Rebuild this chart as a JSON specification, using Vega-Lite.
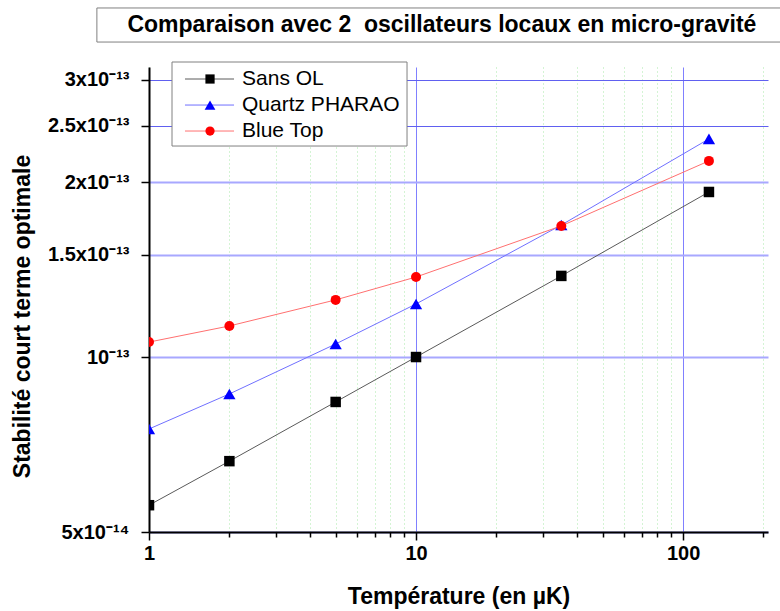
{
  "$schema": "https://vega.github.io/schema/vega-lite/v6.json",
  "width": 619,
  "height": 465,
  "autosize": {"type": "none"},
  "padding": {"left": 149, "top": 67, "right": 12, "bottom": 79},
  "background": "white",
  "config": {"view": {"stroke": null}, "font": "Liberation Sans"},
  "data": {
    "values": [
      {"series": "Sans OL", "T": 1, "S": 5.56e-14},
      {"series": "Sans OL", "T": 2, "S": 6.62e-14},
      {"series": "Sans OL", "T": 5, "S": 8.37e-14},
      {"series": "Sans OL", "T": 10, "S": 1.0e-13},
      {"series": "Sans OL", "T": 35, "S": 1.379e-13},
      {"series": "Sans OL", "T": 125, "S": 1.923e-13},
      {"series": "Quartz PHARAO", "T": 1, "S": 7.52e-14},
      {"series": "Quartz PHARAO", "T": 2, "S": 8.64e-14},
      {"series": "Quartz PHARAO", "T": 5, "S": 1.053e-13},
      {"series": "Quartz PHARAO", "T": 10, "S": 1.234e-13},
      {"series": "Quartz PHARAO", "T": 35, "S": 1.687e-13},
      {"series": "Quartz PHARAO", "T": 125, "S": 2.373e-13},
      {"series": "Blue Top", "T": 1, "S": 1.061e-13},
      {"series": "Blue Top", "T": 2, "S": 1.131e-13},
      {"series": "Blue Top", "T": 5, "S": 1.254e-13},
      {"series": "Blue Top", "T": 10, "S": 1.373e-13},
      {"series": "Blue Top", "T": 35, "S": 1.681e-13},
      {"series": "Blue Top", "T": 125, "S": 2.175e-13}
    ]
  },
  "layer": [
    {
      "encoding": {
        "x": {
          "field": "T",
          "type": "quantitative",
          "scale": {"type": "log", "domain": [1, 208], "nice": false},
          "axis": {
            "title": "Température (en µK)",
            "values": [1, 2, 3, 4, 5, 6, 7, 8, 9, 10, 20, 30, 40, 50, 60, 70, 80, 90, 100, 200],
            "labelExpr": "datum.value == 1 || datum.value == 10 || datum.value == 100 ? format(datum.value, 'd') : ''",
            "labelFont": "Liberation Sans",
            "labelFontSize": 20,
            "labelFontWeight": "bold",
            "labelColor": "black",
            "labelFlush": false,
            "labelOverlap": false,
            "labelPadding": 3,
            "tickColor": "black",
            "tickWidth": 1.5,
            "tickSize": {"condition": {"test": "datum.value == 1 || datum.value == 10 || datum.value == 100", "value": 8}, "value": 5},
            "domainColor": "black",
            "domainWidth": 2,
            "grid": true,
            "gridColor": {"condition": {"test": "datum.value == 10 || datum.value == 100", "value": "#8080ff"}, "value": "#a8e8a8"},
            "gridDash": {"condition": {"test": "datum.value == 10 || datum.value == 100", "value": []}, "value": [1, 3]},
            "gridWidth": 1,
            "titleFont": "Liberation Sans",
            "titleFontSize": 23,
            "titleFontWeight": "bold",
            "titleColor": "black",
            "titlePadding": 22
          }
        },
        "y": {
          "field": "S",
          "type": "quantitative",
          "scale": {"type": "log", "domain": [5e-14, 3.155e-13], "nice": false},
          "axis": {
            "title": "Stabilité court terme optimale",
            "values": [5e-14, 1e-13, 1.5e-13, 2e-13, 2.5e-13, 3e-13],
            "labelExpr": "datum.value < 7e-14 ? '5x10⁻¹⁴' : datum.value < 1.2e-13 ? '10⁻¹³' : datum.value < 1.7e-13 ? '1.5x10⁻¹³' : datum.value < 2.2e-13 ? '2x10⁻¹³' : datum.value < 2.7e-13 ? '2.5x10⁻¹³' : '3x10⁻¹³'",
            "labelFont": "Liberation Sans",
            "labelFontSize": 20,
            "labelFontWeight": "bold",
            "labelColor": "black",
            "labelOverlap": false,
            "labelPadding": 12,
            "tickColor": "black",
            "tickWidth": 1.5,
            "tickSize": 8,
            "domainColor": "black",
            "domainWidth": 2,
            "grid": true,
            "gridColor": {"condition": {"test": "datum.value > 2.2e-13", "value": "#6060f0"}, "value": "#a8a8ff"},
            "gridWidth": {"condition": {"test": "datum.value > 2.2e-13", "value": 1}, "value": 2},
            "titleFont": "Liberation Sans",
            "titleFontSize": 23,
            "titleFontWeight": "bold",
            "titleColor": "black",
            "titleX": -127,
            "titleY": 249,
            "titleBaseline": "middle"
          }
        }
      },
      "layer": [
        {
          "mark": {"type": "line", "strokeWidth": 1, "clip": true},
          "encoding": {
            "stroke": {
              "field": "series",
              "type": "nominal",
              "scale": {"domain": ["Sans OL", "Quartz PHARAO", "Blue Top"], "range": ["#5a5a5a", "#7070ff", "#ff7070"]},
              "legend": null
            }
          }
        },
        {
          "transform": [{"filter": "datum.series == 'Sans OL'"}],
          "mark": {"type": "point", "shape": "square", "filled": true, "size": 110, "color": "black", "opacity": 1, "clip": true}
        },
        {
          "transform": [{"filter": "datum.series == 'Quartz PHARAO'"}],
          "mark": {"type": "point", "shape": "triangle-up", "filled": true, "size": 150, "color": "#0000ff", "opacity": 1, "clip": true}
        },
        {
          "transform": [{"filter": "datum.series == 'Blue Top'"}],
          "mark": {"type": "point", "shape": "circle", "filled": true, "size": 100, "color": "#ff0000", "opacity": 1, "clip": true}
        }
      ]
    },
    {
      "data": {"values": [{"box": "legend"}]},
      "mark": {"type": "rect", "fill": "white", "stroke": "#808080", "strokeWidth": 1, "clip": false},
      "encoding": {
        "x": {"datum": 1.2195, "type": "quantitative", "scale": {"type": "log", "domain": [1, 208], "nice": false}},
        "x2": {"datum": 9.252},
        "y": {"datum": 3.218e-13, "type": "quantitative", "scale": {"type": "log", "domain": [5e-14, 3.155e-13], "nice": false}},
        "y2": {"datum": 2.307e-13}
      }
    },
    {
      "data": {"values": [{"series": "Sans OL"}]},
      "mark": {"type": "rule", "stroke": "#5a5a5a", "strokeWidth": 1, "clip": false},
      "encoding": {
        "x": {"datum": 1.364, "type": "quantitative", "scale": {"type": "log", "domain": [1, 208], "nice": false}},
        "x2": {"datum": 2.0815},
        "y": {"datum": 3.0085e-13, "type": "quantitative", "scale": {"type": "log", "domain": [5e-14, 3.155e-13], "nice": false}}
      }
    },
    {
      "data": {"values": [{"series": "Quartz PHARAO"}]},
      "mark": {"type": "rule", "stroke": "#7070ff", "strokeWidth": 1, "clip": false},
      "encoding": {
        "x": {"datum": 1.364, "type": "quantitative", "scale": {"type": "log", "domain": [1, 208], "nice": false}},
        "x2": {"datum": 2.0815},
        "y": {"datum": 2.7136e-13, "type": "quantitative", "scale": {"type": "log", "domain": [5e-14, 3.155e-13], "nice": false}}
      }
    },
    {
      "data": {"values": [{"series": "Blue Top"}]},
      "mark": {"type": "rule", "stroke": "#ff7070", "strokeWidth": 1, "clip": false},
      "encoding": {
        "x": {"datum": 1.364, "type": "quantitative", "scale": {"type": "log", "domain": [1, 208], "nice": false}},
        "x2": {"datum": 2.0815},
        "y": {"datum": 2.4482e-13, "type": "quantitative", "scale": {"type": "log", "domain": [5e-14, 3.155e-13], "nice": false}}
      }
    },
    {
      "data": {"values": [{"series": "Sans OL"}]},
      "mark": {"type": "point", "shape": "square", "filled": true, "size": 85, "color": "black", "opacity": 1, "clip": false},
      "encoding": {
        "x": {"datum": 1.6924, "type": "quantitative", "scale": {"type": "log", "domain": [1, 208], "nice": false}},
        "y": {"datum": 3.0085e-13, "type": "quantitative", "scale": {"type": "log", "domain": [5e-14, 3.155e-13], "nice": false}}
      }
    },
    {
      "data": {"values": [{"series": "Quartz PHARAO"}]},
      "mark": {"type": "point", "shape": "triangle-up", "filled": true, "size": 115, "color": "#0000ff", "opacity": 1, "clip": false},
      "encoding": {
        "x": {"datum": 1.6924, "type": "quantitative", "scale": {"type": "log", "domain": [1, 208], "nice": false}},
        "y": {"datum": 2.7136e-13, "type": "quantitative", "scale": {"type": "log", "domain": [5e-14, 3.155e-13], "nice": false}}
      }
    },
    {
      "data": {"values": [{"series": "Blue Top"}]},
      "mark": {"type": "point", "shape": "circle", "filled": true, "size": 85, "color": "#ff0000", "opacity": 1, "clip": false},
      "encoding": {
        "x": {"datum": 1.6924, "type": "quantitative", "scale": {"type": "log", "domain": [1, 208], "nice": false}},
        "y": {"datum": 2.4482e-13, "type": "quantitative", "scale": {"type": "log", "domain": [5e-14, 3.155e-13], "nice": false}}
      }
    },
    {
      "data": {"values": [{"series": "Sans OL"}]},
      "mark": {"type": "text", "font": "Liberation Sans", "fontSize": 21, "color": "black", "align": "left", "baseline": "middle", "clip": false},
      "encoding": {
        "x": {"datum": 2.2302, "type": "quantitative", "scale": {"type": "log", "domain": [1, 208], "nice": false}},
        "y": {"datum": 3.0085e-13, "type": "quantitative", "scale": {"type": "log", "domain": [5e-14, 3.155e-13], "nice": false}},
        "text": {"field": "series", "type": "nominal"}
      }
    },
    {
      "data": {"values": [{"series": "Quartz PHARAO"}]},
      "mark": {"type": "text", "font": "Liberation Sans", "fontSize": 21, "color": "black", "align": "left", "baseline": "middle", "clip": false},
      "encoding": {
        "x": {"datum": 2.2302, "type": "quantitative", "scale": {"type": "log", "domain": [1, 208], "nice": false}},
        "y": {"datum": 2.7136e-13, "type": "quantitative", "scale": {"type": "log", "domain": [5e-14, 3.155e-13], "nice": false}},
        "text": {"field": "series", "type": "nominal"}
      }
    },
    {
      "data": {"values": [{"series": "Blue Top"}]},
      "mark": {"type": "text", "font": "Liberation Sans", "fontSize": 21, "color": "black", "align": "left", "baseline": "middle", "clip": false},
      "encoding": {
        "x": {"datum": 2.2302, "type": "quantitative", "scale": {"type": "log", "domain": [1, 208], "nice": false}},
        "y": {"datum": 2.4482e-13, "type": "quantitative", "scale": {"type": "log", "domain": [5e-14, 3.155e-13], "nice": false}},
        "text": {"field": "series", "type": "nominal"}
      }
    },
    {
      "data": {"values": [{"box": "title"}]},
      "mark": {"type": "rect", "fill": "white", "stroke": "#808080", "strokeWidth": 1, "clip": false},
      "encoding": {
        "x": {"datum": 0.638, "type": "quantitative", "scale": {"type": "log", "domain": [1, 208], "nice": false}},
        "x2": {"datum": 240},
        "y": {"datum": 3.986e-13, "type": "quantitative", "scale": {"type": "log", "domain": [5e-14, 3.155e-13], "nice": false}},
        "y2": {"datum": 3.483e-13}
      }
    },
    {
      "data": {"values": [{"title": "Comparaison avec 2\u00a0 oscillateurs locaux en micro-gravité"}]},
      "mark": {"type": "text", "font": "Liberation Sans", "fontSize": 23, "fontWeight": "bold", "color": "black", "align": "center", "baseline": "middle", "clip": false},
      "encoding": {
        "x": {"datum": 12.5, "type": "quantitative", "scale": {"type": "log", "domain": [1, 208], "nice": false}},
        "y": {"datum": 3.725e-13, "type": "quantitative", "scale": {"type": "log", "domain": [5e-14, 3.155e-13], "nice": false}},
        "text": {"field": "title", "type": "nominal"}
      }
    }
  ]
}
